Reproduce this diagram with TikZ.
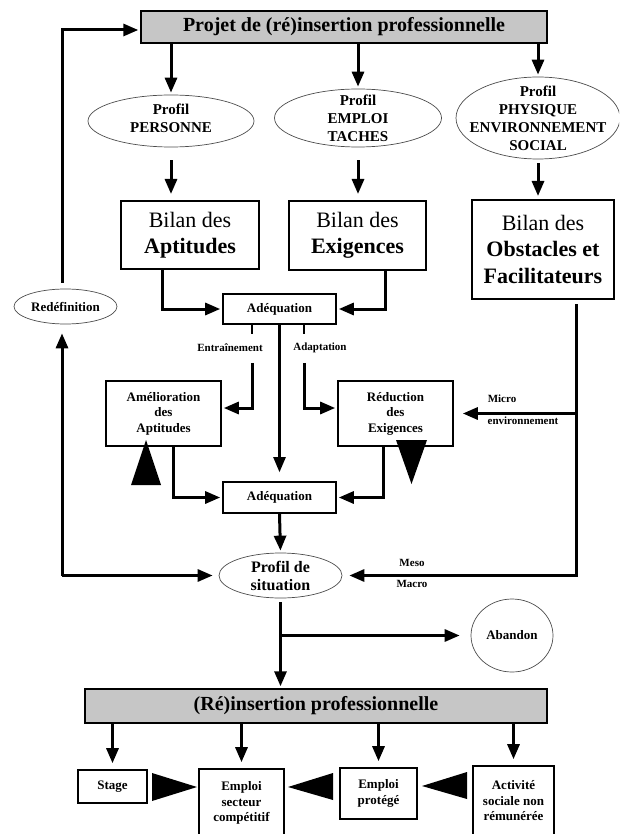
\documentclass[tikz,border=0pt]{standalone}
\usepackage{fontspec}
\setmainfont{Liberation Serif}
\usetikzlibrary{arrows.meta,shapes.geometric}

\begin{document}
\begin{tikzpicture}[
        x=1pt,y=-1pt,
        >={Triangle[length=15pt,width=12pt]},
        band/.style={draw,fill=gray!45,line width=1.4pt,font=\bfseries\fontsize{20}{24}\selectfont},
        profil/.style={ellipse,draw=gray!60!black,line width=0.7pt,align=center,inner sep=-20pt,font=\bfseries\fontsize{15}{18}\selectfont},
        bilan/.style={draw,line width=2pt,align=center,font=\fontsize{22}{26.5}\selectfont},
        smallbox/.style={draw,line width=1.6pt,align=center,font=\bfseries\fontsize{13}{15.5}\selectfont},
        lbl/.style={font=\bfseries\fontsize{11}{13}\selectfont,inner sep=0pt},
        conn/.style={->,line width=3pt,shorten >=2pt},
        tick/.style={line width=2.5pt}
    ]
        \path[use as bounding box,clip] (0,0) rectangle (619,834);

        % upper part
        \node[band,minimum width=406pt,minimum height=32pt] (projet) at (344,27) {Projet de (ré)insertion professionnelle};

        \node[profil,minimum width=166pt,minimum height=52pt,text depth=6pt] (pPers) at (171,121) {Profil\\PERSONNE};
        \node[profil,minimum width=167pt,minimum height=58pt] (pEmpl) at (358,118) {Profil\\EMPLOI\\TACHES};
        \node[profil,minimum width=164pt,minimum height=82pt] (pPhys) at (538,118) {Profil\\PHYSIQUE\\ENVIRONNEMENT\\SOCIAL};

        \node[bilan,minimum width=138pt,minimum height=68pt] (bApt) at (190,235) {Bilan des\\\textbf{Aptitudes}};
        \node[bilan,minimum width=137pt,minimum height=69pt] (bExi) at (357.5,235.5) {Bilan des\\\textbf{Exigences}};
        \node[bilan,minimum width=142pt,minimum height=99pt] (bObs) at (543,249.5) {Bilan des\\\textbf{Obstacles et}\\\textbf{Facilitateurs}};

        \node[smallbox,minimum width=113pt,minimum height=30pt] (adq1) at (279.5,309) {Adéquation};
        \node[smallbox,minimum width=115pt,minimum height=65pt] (amel) at (163.5,413.5) {Amélioration\\des\\Aptitudes};
        \node[smallbox,minimum width=115pt,minimum height=65pt] (redu) at (395.5,413.5) {Réduction\\des\\Exigences};
        \node[smallbox,minimum width=113pt,minimum height=31pt] (adq2) at (279.5,497.5) {Adéquation};

        \node[profil,minimum width=123pt,minimum height=45pt,font=\bfseries\fontsize{16}{18}\selectfont] (situ) at (280.5,575.5) {Profil de\\situation};
        \node[profil,minimum width=103pt,minimum height=35pt,font=\bfseries\fontsize{13}{15}\selectfont] (redef) at (65.5,306.5) {Redéfinition};
        \node[profil,minimum width=82pt,minimum height=73pt,font=\bfseries\fontsize{13}{15}\selectfont] (aband) at (512,635.5) {Abandon};

        \node[lbl] (lEntr) at (230,348) {Entraînement};
        \node[lbl] (lAdap) at (320,348) {Adaptation};
        \node[lbl] (lMicro) at (502,399) {Micro};
        \node[lbl] (lEnv) at (523,421) {environnement};
        \node[lbl] (lMeso) at (412,563) {Meso};
        \node[lbl] (lMacro) at (412,584) {Macro};

        % lower part
        \node[band,minimum width=462pt,minimum height=34pt] (reins) at (316,706) {(Ré)insertion professionnelle};
        \node[smallbox,minimum width=69pt,minimum height=33pt] (stage) at (112.5,786.5) {Stage};
        \node[smallbox,minimum width=85pt,minimum height=68pt] (empSec) at (241.5,803) {Emploi\\secteur\\compétitif};
        \node[smallbox,minimum width=77pt,minimum height=51pt] (empProt) at (378.5,793.5) {Emploi\\protégé};
        \node[smallbox,minimum width=81pt,minimum height=70pt] (activ) at (513.5,801) {Activité\\sociale non\\rémunérée};

        % connectors
        \foreach \p in {pPers,pEmpl,pPhys}
            \draw[conn] (projet.south -| \p.north) -- (\p.north);
        \draw[conn,shorten >=6pt] ([yshift=-13pt]pPers.south) -- (pPers.south |- bApt.north);
        \draw[conn,shorten >=6pt] ([yshift=-13pt]pEmpl.south) -- (pEmpl.south |- bExi.north);
        \draw[conn,shorten >=3pt] ([yshift=-4pt]pPhys.south) -- (pPhys.south |- bObs.north);

        \draw[conn] ([xshift=-28pt]bApt.south) |- (adq1.west);
        \draw[conn] ([xshift=27.5pt]bExi.south) |- (adq1.east);

        \draw[tick] ([xshift=-27.5pt]adq1.south) -- ++(0,9);
        \draw[tick] ([xshift=24.5pt]adq1.south) -- ++(0,9);
        \draw[conn] ([xshift=-27.5pt,yshift=-38pt]adq1.south) |- ([yshift=5.5pt]amel.east);
        \draw[conn] ([xshift=24.5pt,yshift=-38pt]adq1.south) |- ([yshift=5.5pt]redu.west);
        \draw[conn,line width=2.3pt,shorten >=9pt] (adq1.south) -- (adq2.north);

        \draw[conn] ([xshift=9.5pt]amel.south) |- (adq2.west);
        \draw[conn] ([xshift=-12.5pt]redu.south) |- (adq2.east);
        \draw[conn] (adq2.south) -- (situ.north);

        \coordinate (obsOut) at ([xshift=33pt,yshift=-4pt]bObs.south);
        \draw[conn,shorten >=7pt] (obsOut) |- (situ.east);
        \draw[conn,shorten >=9pt] (obsOut |- redu.east) -- (redu.east);

        \coordinate (loopL) at ([xshift=-3.5pt]redef.south |- situ.west);
        \draw[conn,shorten >=6pt] (loopL) -- (situ.west);
        \draw[conn,shorten >=9pt] (loopL) -- (loopL |- redef.south);
        \draw[conn] ([xshift=-3.5pt,yshift=6pt]redef.north) |- ([yshift=-3pt]projet.west);

        \draw[conn] ([yshift=-4pt]situ.south) -- (situ.south |- reins.north);
        \draw[conn,shorten >=11pt] (situ.south |- aband.west) -- (aband.west);

        \foreach \b in {stage,empSec,empProt,activ}
            \draw[conn,shorten >=6pt] (reins.south -| \b.north) -- (\b.north);

        % big triangles
        \fill (131,485) -- (146,440) -- (161,485) -- cycle;
        \fill (396,440) -- (427,440) -- (411.5,484) -- cycle;
        \fill (152,773) -- (197,787) -- (152,801) -- cycle;
        \fill (333,773) -- (288,787) -- (333,800) -- cycle;
        \fill (467,772) -- (422,786) -- (467,799) -- cycle;
    \end{tikzpicture}
\end{document}
